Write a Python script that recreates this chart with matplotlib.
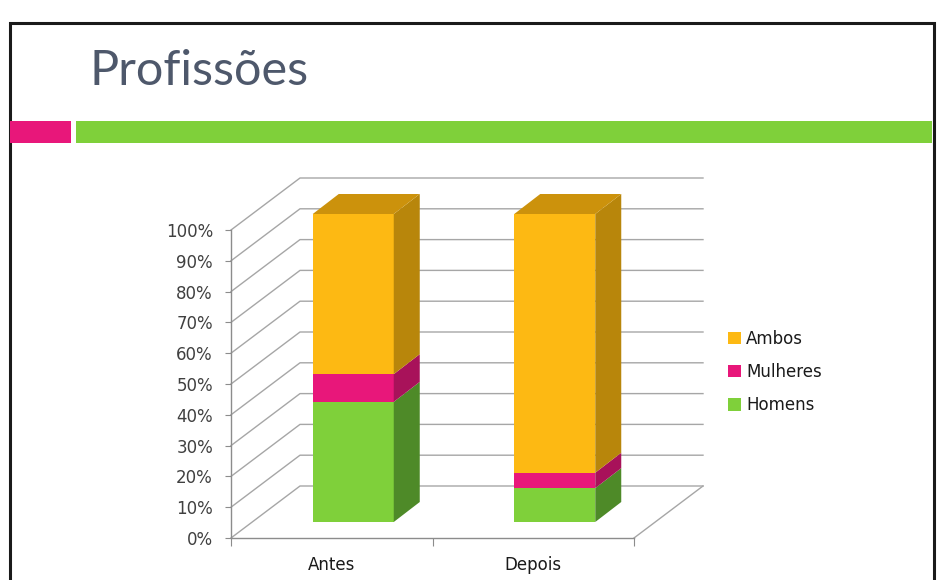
import matplotlib
matplotlib.use("Agg")
import matplotlib.pyplot as plt
from matplotlib.patches import Rectangle, Polygon, Patch

# ---- data ----
categories = ["Antes", "Depois"]
homens = [39, 11]
mulheres = [9, 5]
ambos = [52, 84]
series_names = ["Homens", "Mulheres", "Ambos"]
ytick_vals = [0, 10, 20, 30, 40, 50, 60, 70, 80, 90, 100]
ytick_labels = ["0%", "10%", "20%", "30%", "40%", "50%", "60%", "70%", "80%", "90%", "100%"]
title = "Profissões"

# ---- styles ----
front_cols = ["#7fd03a", "#e8177a", "#fdb913"]
side_cols = ["#4e8a28", "#a8125a", "#b8860b"]
top_col = "#cc920c"
grid_col = "#a6a6a6"
text_col = "#404040"

W, H = 938, 580
fig = plt.figure(figsize=(W / 100, H / 100), dpi=100)

# slide decoration
fig.patches.append(Rectangle((9.5 / W, -0.1), 924 / W, (H - 23) / H + 0.1,
                             transform=fig.transFigure, fill=False,
                             edgecolor="#1a1a1a", linewidth=2.2))
fig.patches.append(Rectangle((10 / W, (H - 143) / H), 61 / W, 22 / H,
                             transform=fig.transFigure, color="#e8177a", lw=0))
fig.patches.append(Rectangle((76 / W, (H - 143) / H), 856 / W, 22 / H,
                             transform=fig.transFigure, color="#7fd03a", lw=0))
fig.text(89 / W, (H - 85) / H, title, fontsize=35, color="#4e586b",
         family=["Lato", "DejaVu Sans"],
         ha="left", va="baseline")

# chart axes: front plane
x0, x1, ytop, ybot = 231, 634, 230, 538
ax = fig.add_axes([x0 / W, (H - ybot) / H, (x1 - x0) / W, (ybot - ytop) / H])
ax.set_xlim(0, len(categories))
ax.set_ylim(0, 100)
ax.patch.set_alpha(0)

pxx = (x1 - x0) / len(categories)
pxy = (ybot - ytop) / 100.0
# depth vectors (data units)
DX, DY = 69 / pxx, 52 / pxy
FX, FY = 21.5 / pxx, 16 / pxy
BX, BY = 26 / pxx, 20 / pxy
bw = 81 / pxx

# walls / grid
for v in ytick_vals:
    ax.plot([0, DX, len(categories) + DX], [v, v + DY, v + DY],
            color=grid_col, lw=1, clip_on=False, zorder=1)
ax.plot([len(categories) + DX, len(categories)], [DY, 0],
        color=grid_col, lw=1, clip_on=False, zorder=1)

# bars
series = [homens, mulheres, ambos]
for i, c in enumerate(categories):
    left = i + 0.5 - bw / 2 + FX
    right = left + bw
    base = 0
    for s, vals in enumerate(series):
        v = vals[i]
        y0 = base + FY
        y1 = base + v + FY
        ax.add_patch(Rectangle((left, y0), bw, v, facecolor=front_cols[s],
                               edgecolor="none", clip_on=False, zorder=3))
        ax.add_patch(Polygon([(right, y0), (right + BX, y0 + BY),
                              (right + BX, y1 + BY), (right, y1)],
                             closed=True, facecolor=side_cols[s],
                             edgecolor="none", clip_on=False, zorder=3))
        base += v
    yt = base + FY
    ax.add_patch(Polygon([(left, yt), (right, yt), (right + BX, yt + BY),
                          (left + BX, yt + BY)], closed=True,
                         facecolor=top_col, edgecolor="none",
                         clip_on=False, zorder=3))

# axes styling
for sp in ["top", "right"]:
    ax.spines[sp].set_visible(False)
for sp in ["left", "bottom"]:
    ax.spines[sp].set_color("#8c8c8c")
    ax.spines[sp].set_linewidth(1)
ax.set_yticks(ytick_vals)
ax.set_yticklabels(ytick_labels)
ax.tick_params(axis="y", direction="out", length=4, color="#8c8c8c",
               labelsize=12, labelcolor=text_col, pad=9)
ax.set_xticks(range(len(categories) + 1))
ax.set_xticklabels([])
ax.tick_params(axis="x", which="major", direction="out", length=6, color="#8c8c8c")
ax.set_xticks([i + 0.5 for i in range(len(categories))], minor=True)
ax.set_xticklabels(categories, minor=True)
ax.tick_params(axis="x", which="minor", length=0, labelsize=12,
               labelcolor="#1a1a1a", pad=13)

# legend
handles = [Patch(facecolor=front_cols[s], edgecolor="none", label=series_names[s])
           for s in range(len(series_names))][::-1]
fig.legend(handles=handles, loc="center left",
           bbox_to_anchor=(728 / W, (H - 372) / H), frameon=False,
           fontsize=12, handlelength=0.75, handleheight=0.75,
           handletextpad=0.35, labelspacing=0.92, labelcolor="#1a1a1a",
           borderaxespad=0, borderpad=0)

fig.savefig("out.png", dpi=100)
